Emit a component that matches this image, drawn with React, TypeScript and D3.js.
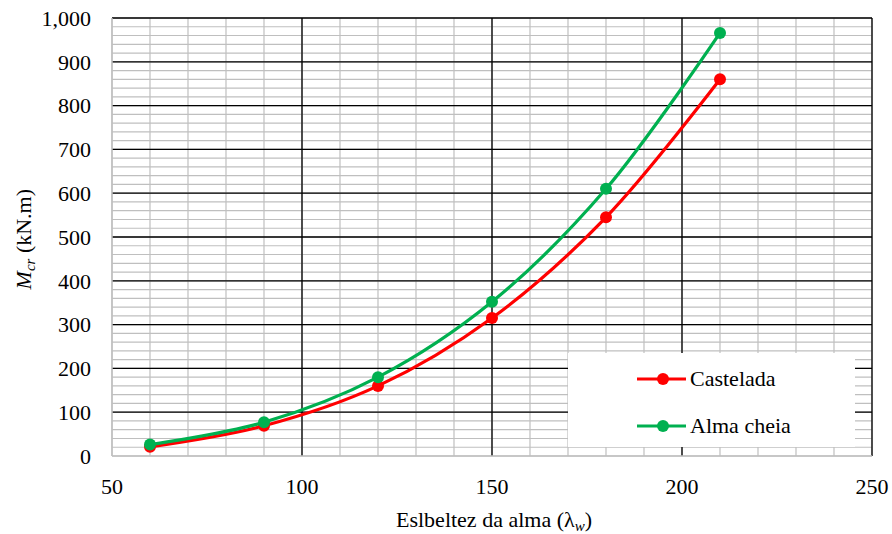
import React, { useEffect, useRef } from 'react';
import * as d3 from 'd3';

const slenderness = [60, 90, 120, 150, 180, 210];
const castelada = [21, 69, 160, 315, 545, 860];
const almaCheia = [26, 77, 180, 352, 610, 966];
const seriesNames = ['Castelada', 'Alma cheia'];
const seriesColors = ['#ff0000', '#00b050'];
const xTicks = [50, 100, 150, 200, 250];
const yTicks = [0, 100, 200, 300, 400, 500, 600, 700, 800, 900, 1000];

const W = 892;
const H = 534;
const margin = { left: 112, right: 20, top: 18, bottom: 78 };
const FONT = "'Liberation Serif'";

const App = () => {
  const svgRef = useRef<SVGSVGElement>(null);

  useEffect(() => {
    const svg = d3.select(svgRef.current);
    svg.selectAll('*').remove();

    const x = d3.scaleLinear().domain([50, 250]).range([margin.left, W - margin.right]);
    const y = d3.scaleLinear().domain([0, 1000]).range([H - margin.bottom, margin.top]);

    const grid = svg.append('g');
    // minor gridlines
    grid.selectAll('.mx')
      .data(d3.range(50, 251, 10))
      .join('line')
      .attr('x1', (d) => x(d)).attr('x2', (d) => x(d))
      .attr('y1', y(0)).attr('y2', y(1000))
      .attr('stroke', '#bfbfbf').attr('stroke-width', 1.2);
    grid.selectAll('.my')
      .data(d3.range(0, 1001, 20))
      .join('line')
      .attr('y1', (d) => y(d)).attr('y2', (d) => y(d))
      .attr('x1', x(50)).attr('x2', x(250))
      .attr('stroke', '#bfbfbf').attr('stroke-width', 1.2);
    // major gridlines
    grid.selectAll('.Mx')
      .data(xTicks.filter((d) => d > 50))
      .join('line')
      .attr('x1', (d) => x(d)).attr('x2', (d) => x(d))
      .attr('y1', y(0)).attr('y2', y(1000))
      .attr('stroke', '#000').attr('stroke-width', 1.3);
    grid.selectAll('.My')
      .data(yTicks.filter((d) => d > 0))
      .join('line')
      .attr('y1', (d) => y(d)).attr('y2', (d) => y(d))
      .attr('x1', x(50)).attr('x2', x(250))
      .attr('stroke', '#000').attr('stroke-width', 1.3);
    // axis lines
    grid.append('line')
      .attr('x1', x(50)).attr('x2', x(250)).attr('y1', y(0)).attr('y2', y(0))
      .attr('stroke', '#bfbfbf').attr('stroke-width', 1.5);
    grid.append('line')
      .attr('x1', x(50)).attr('x2', x(50)).attr('y1', y(0)).attr('y2', y(1000))
      .attr('stroke', '#bfbfbf').attr('stroke-width', 1.5);

    // tick labels
    svg.append('g')
      .selectAll('text')
      .data(yTicks)
      .join('text')
      .attr('x', 91)
      .attr('y', (d) => y(d))
      .attr('dy', '0.35em')
      .attr('text-anchor', 'end')
      .attr('font-size', 22)
      .style('font-family', FONT)
      .text((d) => d3.format(',')(d));
    svg.append('g')
      .selectAll('text')
      .data(xTicks)
      .join('text')
      .attr('x', (d) => x(d))
      .attr('y', 494)
      .attr('text-anchor', 'middle')
      .attr('font-size', 22)
      .style('font-family', FONT)
      .text((d) => d);

    // series
    const seriesData = [castelada, almaCheia];
    const lineGen = d3.line<number>()
      .x((_, i) => x(slenderness[i]))
      .y((d) => y(d))
      .curve(d3.curveCatmullRom.alpha(0.5));
    seriesData.forEach((vals, si) => {
      const g = svg.append('g');
      g.append('path')
        .attr('d', lineGen(vals))
        .attr('fill', 'none')
        .attr('stroke', seriesColors[si])
        .attr('stroke-width', 3.2);
      g.selectAll('circle')
        .data(vals)
        .join('circle')
        .attr('cx', (_, i) => x(slenderness[i]))
        .attr('cy', (d) => y(d))
        .attr('r', 6)
        .attr('fill', seriesColors[si]);
    });

    // legend
    const lg = svg.append('g');
    lg.append('rect')
      .attr('x', 568).attr('y', 353).attr('width', 287).attr('height', 94)
      .attr('fill', '#fff');
    seriesNames.forEach((name, i) => {
      const ly = 379 + i * 47;
      lg.append('line')
        .attr('x1', 637).attr('x2', 686).attr('y1', ly).attr('y2', ly)
        .attr('stroke', seriesColors[i]).attr('stroke-width', 3.2);
      lg.append('circle')
        .attr('cx', 663).attr('cy', ly).attr('r', 6)
        .attr('fill', seriesColors[i]);
      lg.append('text')
        .attr('x', 690).attr('y', ly).attr('dy', '0.33em')
        .attr('font-size', 22)
        .style('font-family', FONT)
        .text(name);
    });

    // axis titles
    const xt = svg.append('text')
      .attr('x', 494).attr('y', 527)
      .attr('text-anchor', 'middle')
      .attr('font-size', 22)
      .style('font-family', FONT);
    xt.append('tspan').text('Eslbeltez da alma (λ');
    xt.append('tspan').attr('font-style', 'italic').attr('font-size', 15).attr('dy', 4).text('w');
    xt.append('tspan').attr('dy', -4).text(')');

    const yt = svg.append('text')
      .attr('transform', `translate(31, ${y(495)}) rotate(-90)`)
      .attr('text-anchor', 'middle')
      .attr('font-size', 22)
      .style('font-family', FONT);
    yt.append('tspan').attr('font-style', 'italic').text('M');
    yt.append('tspan').attr('font-style', 'italic').attr('font-size', 15).attr('dy', 4).text('cr');
    yt.append('tspan').attr('dy', -4).text(' (kN.m)');
  }, []);

  return (
    <svg
      ref={svgRef}
      width={W}
      height={H}
      style={{ display: 'block', position: 'absolute', left: 0, top: 0 }}
    />
  );
};

export default App;
